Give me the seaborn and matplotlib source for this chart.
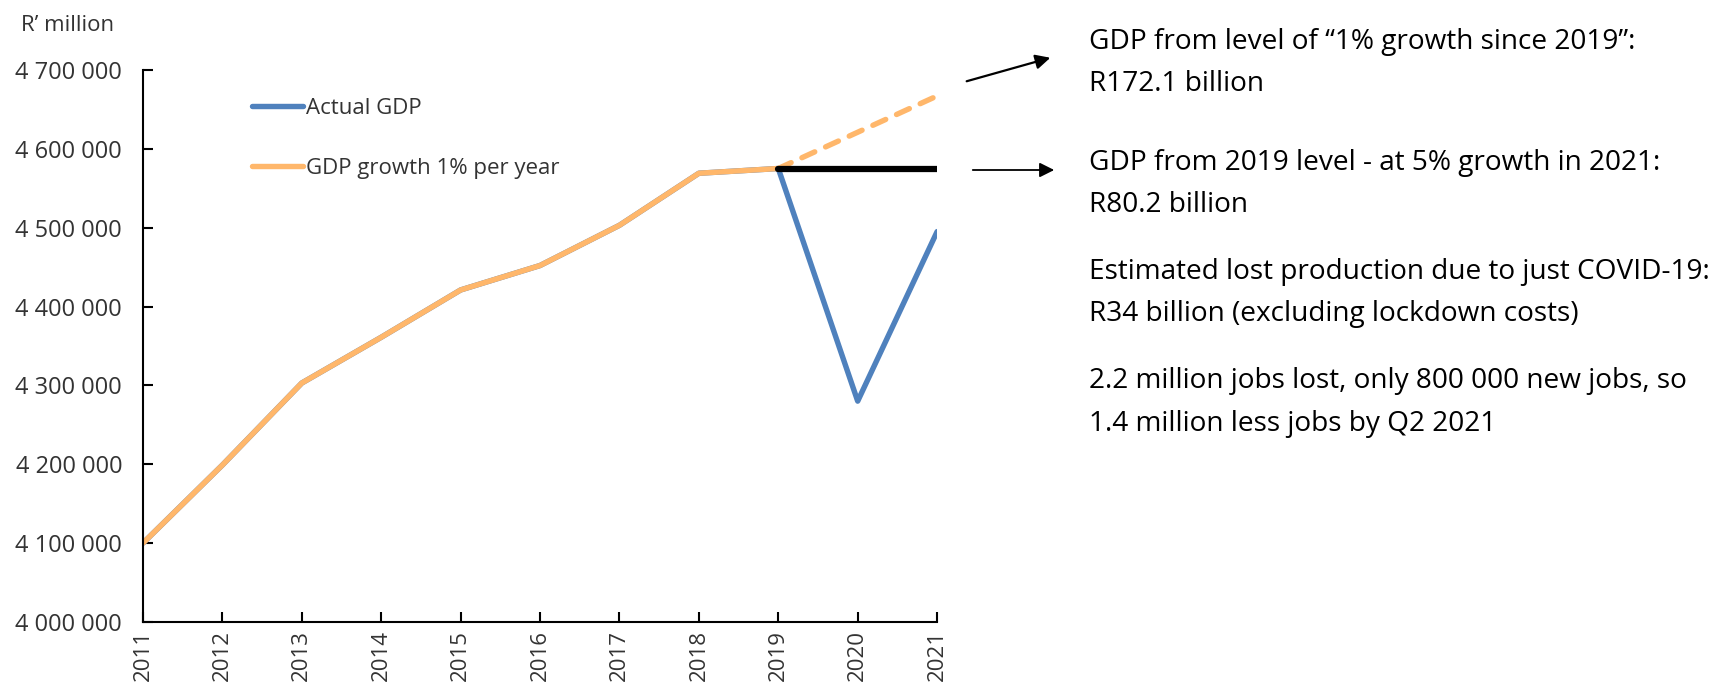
import numpy as np
import pandas as pd
import seaborn as sns
from matplotlib import pyplot as plt
from matplotlib.ticker import FuncFormatter


years = [2011, 2012, 2013, 2014, 2015, 2016, 2017, 2018, 2019, 2020, 2021]
actual_gdp = [4100000, 4199000, 4303000, 4361000, 4421000, 4452000, 4503000,
              4569000, 4575000, 4280000, 4495000]
growth_1pct = [4100000, 4199000, 4303000, 4361000, 4421000, 4452000, 4503000,
               4569000, 4575000, 4621000, 4667000]
level_2019_years = [2019, 2020, 2021]
level_2019 = [4575000, 4575000, 4575000]

notes = [
    "GDP from level of \u201c1% growth since 2019\u201d:\nR172.1 billion",
    "GDP from 2019 level - at 5% growth in 2021:\nR80.2 billion",
    "Estimated lost production due to just COVID-19:\nR34 billion (excluding lockdown costs)",
    "2.2 million jobs lost, only 800 000 new jobs, so\n1.4 million less jobs by Q2 2021",
]

blue = "#4F81BD"
orange = "#FFB76B"
grey_text = "#333333"

sns.set_style("ticks")
plt.rcParams['font.family'] = ['Open Sans', 'DejaVu Sans']

df = pd.DataFrame({"year": years, "actual": actual_gdp, "growth": growth_1pct})
solid = df[df["year"] <= 2019]
dashed = df[df["year"] >= 2019]
flat = pd.DataFrame({"year": level_2019_years, "level": level_2019})

fig = plt.figure(figsize=(17.29, 6.91), dpi=100)
ax = fig.add_axes([0.0827, 0.0999, 0.4593, 0.7989])

sns.lineplot(data=df, x="year", y="actual", color=blue, lw=3.9,
             label="Actual GDP", ax=ax, solid_capstyle="round")
sns.lineplot(data=solid, x="year", y="growth", color=orange, lw=3.9,
             label="GDP growth 1% per year", ax=ax, solid_capstyle="round")
sns.lineplot(data=dashed, x="year", y="growth", color=orange, lw=3.9,
             ax=ax, legend=False, linestyle=(0, (2.6, 2.2)), dash_capstyle="round")
sns.lineplot(data=flat, x="year", y="level", color="black", lw=4.5,
             ax=ax, legend=False)

ax.set_xlim(2011, 2021)
ax.set_ylim(4000000, 4700000)
ax.set_xticks(years)
ax.set_xticklabels([str(y) for y in years], rotation=90)
ax.set_yticks(np.arange(4000000, 4700001, 100000))
ax.yaxis.set_major_formatter(FuncFormatter(lambda v, p: f"{v:,.0f}".replace(",", " ")))
ax.set_xlabel("")
ax.set_ylabel("")
ax.tick_params(direction="in", length=7, width=1.5, colors="black",
               labelcolor=grey_text)
ax.tick_params(axis="y", labelsize=17, pad=15)
ax.tick_params(axis="x", labelsize=16, pad=6)
for s in ["top", "right"]:
    ax.spines[s].set_visible(False)
for s in ["left", "bottom"]:
    ax.spines[s].set_linewidth(1.5)
    ax.spines[s].set_color("black")

leg = ax.legend(loc="upper left", bbox_to_anchor=(0.112, 0.985), frameon=False,
                fontsize=16, handlelength=2.3, handletextpad=0.15, labelspacing=1.75)
for t in leg.get_texts():
    t.set_color(grey_text)

fig.text(0.012, 0.978, "R\u2019 million", fontsize=16, color=grey_text, va="top")

note_y = [0.960, 0.785, 0.627, 0.469]
for y, txt in zip(note_y, notes):
    fig.text(0.630, y, txt, fontsize=20.2, color="black", va="top", linespacing=1.7)

ax.annotate("", xy=(1053 / 1729, 1 - 57 / 691), xytext=(964 / 1729, 1 - 82 / 691),
            xycoords="figure fraction", textcoords="figure fraction",
            arrowprops=dict(arrowstyle="-|>", color="black", lw=1.6, mutation_scale=22))
ax.annotate("", xy=(1057 / 1729, 1 - 170 / 691), xytext=(970 / 1729, 1 - 170 / 691),
            xycoords="figure fraction", textcoords="figure fraction",
            arrowprops=dict(arrowstyle="-|>", color="black", lw=1.3, mutation_scale=22))

fig.savefig("out.png", dpi=100)
